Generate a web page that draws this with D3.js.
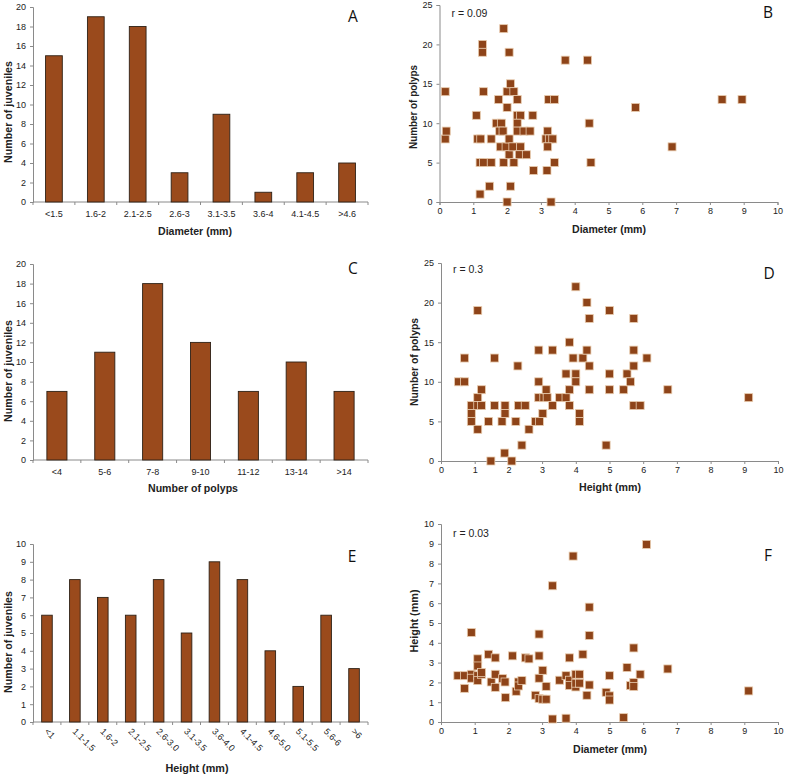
<!DOCTYPE html>
<html>
<head>
<meta charset="utf-8">
<script src="https://cdn.jsdelivr.net/npm/d3@7"></script>
<style>
body{margin:0;background:#fff;}
svg text{font-family:"Liberation Sans",Arial,sans-serif;}
</style>
</head>
<body>
<svg id="chart" width="785" height="776"></svg>
<script>
// ---- Data ----
const diamCats = ["<1.5","1.6-2","2.1-2.5","2.6-3","3.1-3.5","3.6-4","4.1-4.5",">4.6"];
const diamCounts = [15,19,18,3,9,1,3,4];

const polypCats = ["<4","5-6","7-8","9-10","11-12","13-14",">14"];
const polypCounts = [7,11,18,12,7,10,7];

const heightCats = ["<1","1.1-1.5","1.6-2","2.1-2.5","2.6-3.0","3.1-3.5","3.6-4.0","4.1-4.5","4.6-5.0","5.1-5.5","5.6-6",">6"];
const heightCounts = [6,8,7,6,8,5,9,8,4,2,6,3];

// B: diameter vs number of polyps
const bDiameter = [0.17,0.17,0.2,1.09,1.13,1.22,1.2,1.2,1.3,1.27,1.27,1.3,1.53,1.53,1.48,1.75,1.68,1.83,1.78,1.88,1.8,1.9,1.9,2.0,1.97,2.0,2.0,2.06,2.1,2.06,2.06,2.1,2.17,2.2,2.2,2.3,2.3,2.4,2.3,2.3,2.4,2.36,2.5,2.57,2.68,2.76,2.78,3.2,3.15,3.25,3.35,3.2,3.18,3.23,3.4,3.4,3.3,3.72,4.38,4.43,4.48,5.8,6.88,8.36,8.95];
const bPolyps   = [14,8,9,11,8,8,1,5,5,20,19,14,5,8,2,13,10,10,9,9,7,22,5,12,7,0,14,19,15,8,6,2,7,14,5,13,11,11,10,9,7,6,9,6,9,11,4,9,8,8,8,7,4,13,13,5,0,18,18,10,5,12,7,13,13];

// D: height vs number of polyps
const dHeight = [0.52,0.7,0.7,0.9,0.9,0.9,1.09,1.09,1.2,1.2,1.09,1.09,1.41,1.48,1.59,1.59,1.81,1.9,1.9,1.89,2.1,2.22,2.28,2.3,2.5,2.4,2.61,2.8,2.92,2.9,2.9,2.9,3.02,3.05,3.12,3.15,3.31,3.31,3.52,3.71,3.71,3.81,3.81,3.81,3.92,4.0,4.0,4.0,4.11,4.11,4.21,4.33,4.33,4.4,4.4,4.4,4.9,5.0,5.0,5.0,5.42,5.52,5.62,5.72,5.72,5.72,5.72,5.91,6.11,6.73,9.13];
const dPolyps = [10,10,13,7,6,5,8,7,7,9,19,4,5,0,13,7,5,7,6,1,0,5,12,7,7,2,4,5,5,14,10,8,6,8,9,8,14,7,8,8,11,15,9,7,13,11,10,22,6,5,13,14,20,18,12,9,2,19,11,9,9,11,10,18,14,12,7,7,13,9,8];

// F: diameter vs height
const fDiameter = [0.5,0.7,0.7,0.9,0.9,0.9,1.09,1.09,1.09,1.09,1.2,1.2,1.41,1.49,1.61,1.61,1.61,1.83,1.9,1.91,2.12,2.23,2.3,2.3,2.4,2.51,2.61,2.8,2.91,2.91,2.91,2.91,3.02,3.02,3.12,3.12,3.31,3.31,3.52,3.71,3.71,3.81,3.81,3.81,3.92,4.0,4.0,4.0,4.11,4.11,4.21,4.33,4.4,4.4,4.4,4.9,5.0,5.0,5.0,5.42,5.52,5.62,5.72,5.72,5.72,5.91,6.1,6.73,9.13];
const fHeight = [2.34,2.34,1.7,4.52,2.41,2.21,3.19,2.83,2.34,2.09,2.41,2.5,3.42,2.02,3.24,2.41,1.75,2.19,2.02,1.23,3.34,1.55,2.02,1.82,2.09,3.24,3.19,1.35,4.44,3.34,2.21,1.18,2.61,1.15,1.15,1.8,6.88,0.15,2.11,2.34,0.19,3.24,2.11,1.84,8.38,2.41,1.77,1.96,2.41,1.96,3.42,1.35,5.8,4.37,1.87,1.5,2.34,1.32,1.11,0.22,2.75,1.84,3.74,2.0,1.79,2.41,8.97,2.68,1.57];

const panels = [
  {type:"bar", cats:diamCats, vals:diamCounts, yMax:20, yStep:2, x0:33, x1:368, y0:202, y1:7,
   xTitle:"Diameter (mm)", xtx:195, xty:235, xtl:74,
   yTitle:"Number of juveniles", ytx:8, yty:112, ytl:102,
   letter:"A", lx:353, ly:22, pad:0.6, rotate:false},
  {type:"scatter", xs:bDiameter, ys:bPolyps, xMax:10, yMax:25, yStep:5, x0:439.5, x1:777.5, y0:202, y1:5,
   xTitle:"Diameter (mm)", xtx:609, xty:233, xtl:74,
   yTitle:"Number of polyps", ytx:413, yty:107, ytl:84,
   letter:"B", lx:768, ly:17.5, r:"r = 0.09", ry:17},
  {type:"bar", cats:polypCats, vals:polypCounts, yMax:20, yStep:2, x0:33, x1:368, y0:460, y1:264,
   xTitle:"Number of polyps", xtx:193, xty:492, xtl:90,
   yTitle:"Number of juveniles", ytx:8, yty:371, ytl:102,
   letter:"C", lx:353, ly:274, pad:0.58, rotate:false},
  {type:"scatter", xs:dHeight, ys:dPolyps, xMax:10, yMax:25, yStep:5, x0:441, x1:778, y0:461, y1:263,
   xTitle:"Height (mm)", xtx:610, xty:491, xtl:62,
   yTitle:"Number of polyps", ytx:414, yty:362, ytl:88,
   letter:"D", lx:769, ly:279, r:"r = 0.3", ry:273},
  {type:"bar", cats:heightCats, vals:heightCounts, yMax:10, yStep:1, x0:33, x1:368, y0:722, y1:544,
   xTitle:"Height (mm)", xtx:197, xty:772, xtl:63,
   yTitle:"Number of juveniles", ytx:8, yty:642, ytl:102,
   letter:"E", lx:352, ly:562, pad:0.62, rotate:true},
  {type:"scatter", xs:fDiameter, ys:fHeight, xMax:10, yMax:10, yStep:1, x0:441, x1:778, y0:722, y1:524,
   xTitle:"Diameter (mm)", xtx:610, xty:753, xtl:74,
   yTitle:"Height (mm)", ytx:414, yty:621, ytl:63,
   letter:"F", lx:768, ly:561, r:"r = 0.03", ry:537}
];

const svg = d3.select("#chart");
const axisColor = "#8a8a8a";

function styleAxis(g){
  g.select(".domain").attr("stroke", axisColor).attr("stroke-width",1);
  g.selectAll(".tick line").attr("stroke", axisColor);
  g.selectAll(".tick text").attr("fill","#222").attr("font-size","9px");
}

panels.forEach(p => {
  const g = svg.append("g");
  const y = d3.scaleLinear().domain([0,p.yMax]).range([p.y0,p.y1]);
  const yTicks = d3.range(0, p.yMax + 0.001, p.yStep);

  // y axis
  const ya = g.append("g").attr("transform",`translate(${p.x0},0)`)
    .call(d3.axisLeft(y).tickValues(yTicks).tickSize(3).tickPadding(4).tickFormat(d3.format("d")));
  styleAxis(ya);

  if (p.type === "bar") {
    const xb = d3.scaleBand().domain(p.cats).range([p.x0,p.x1]).paddingInner(p.pad).paddingOuter(p.pad/2);
    const step = xb.step();
    g.append("line").attr("x1",p.x0).attr("x2",p.x1).attr("y1",p.y0).attr("y2",p.y0)
      .attr("stroke",axisColor);
    d3.range(p.cats.length+1).forEach(i=>{
      const xx = p.x0 + i*step;
      g.append("line").attr("x1",xx).attr("x2",xx).attr("y1",p.y0).attr("y2",p.y0+3).attr("stroke",axisColor);
    });
    g.selectAll("rect.bar").data(p.cats).join("rect").attr("class","bar")
      .attr("x", d=>xb(d)).attr("width", xb.bandwidth())
      .attr("y", (d,i)=>y(p.vals[i])).attr("height",(d,i)=>p.y0 - y(p.vals[i]))
      .attr("fill","#9a4a1c").attr("stroke","#2e2116").attr("stroke-width",0.9);
    if (!p.rotate) {
      g.selectAll("text.xl").data(p.cats).join("text").attr("class","xl")
        .attr("x", d=>xb(d)+xb.bandwidth()/2).attr("y", p.y0+15)
        .attr("text-anchor","middle").attr("font-size","9px").attr("fill","#222").text(d=>d);
    } else {
      g.selectAll("text.xl").data(p.cats).join("text").attr("class","xl")
        .attr("transform", d=>`translate(${xb(d)+xb.bandwidth()/2-3},${p.y0+10}) rotate(45)`)
        .attr("text-anchor","start").attr("font-size","9px").attr("fill","#222").text(d=>d);
    }
  } else {
    const x = d3.scaleLinear().domain([0,p.xMax]).range([p.x0,p.x1]);
    const xa = g.append("g").attr("transform",`translate(0,${p.y0})`)
      .call(d3.axisBottom(x).tickValues(d3.range(0,p.xMax+0.001,1)).tickSize(3).tickPadding(3).tickFormat(d3.format("d")));
    styleAxis(xa);
    const s = 8;
    g.selectAll("rect.pt").data(p.xs).join("rect").attr("class","pt")
      .attr("x",(d)=>x(d)-s/2).attr("y",(d,i)=>y(p.ys[i])-s/2)
      .attr("width",s).attr("height",s)
      .attr("fill","#8e4419").attr("stroke","#e9cdb0").attr("stroke-width",0.8);
    g.append("text").attr("x",p.x0+12).attr("y",p.ry).attr("font-size","10.5px").attr("fill","#222").text(p.r);
  }
  // x title
  g.append("text").attr("x",p.xtx).attr("y",p.xty)
    .attr("text-anchor","middle").attr("font-size","11px").attr("font-weight","bold").attr("fill","#222")
    .attr("textLength",p.xtl).attr("lengthAdjust","spacingAndGlyphs").text(p.xTitle);
  // y title
  g.append("text").attr("transform",`translate(${p.ytx},${p.yty}) rotate(-90)`)
    .attr("text-anchor","middle").attr("dy","0.35em").attr("font-size","11px").attr("font-weight","bold").attr("fill","#222")
    .attr("textLength",p.ytl).attr("lengthAdjust","spacingAndGlyphs").text(p.yTitle);
  // panel letter
  g.append("text").attr("x",p.lx).attr("y",p.ly).attr("text-anchor","middle")
    .attr("font-size","15.5px").attr("fill","#111").style("font-family","'Open Sans',sans-serif").text(p.letter);
});
</script>
</body>
</html>
